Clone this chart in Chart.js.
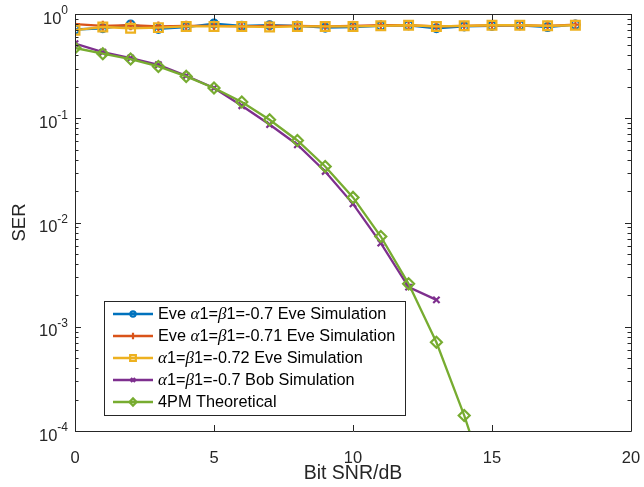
<!DOCTYPE html>
<html>
<head>
<meta charset="utf-8">
<script src="https://cdn.jsdelivr.net/npm/chart.js@4.4.0/dist/chart.umd.min.js"></script>
<style>
  html, body { margin: 0; padding: 0; background: #fff; }
  #wrap { position: relative; width: 644px; height: 487px; }
</style>
</head>
<body>
<div id="wrap"><canvas id="ser-chart" width="644" height="487"></canvas></div>
<script>
(function () {
    'use strict';

    // Bit SNR (dB) sample points
    var snrEve = [0, 1, 2, 3, 4, 5, 6, 7, 8, 9, 10, 11, 12, 13, 14, 15, 16, 17, 18];
    var snrBob = [0, 1, 2, 3, 4, 5, 6, 7, 8, 9, 10, 11, 12, 13];
    var snrTheory = [0, 1, 2, 3, 4, 5, 6, 7, 8, 9, 10, 11, 12, 13, 14, 15];

    // symbol error rates
    var serEve070 = [0.71, 0.73, 0.79, 0.72, 0.75, 0.81, 0.77, 0.78, 0.77, 0.74, 0.75, 0.77, 0.78, 0.73, 0.76, 0.77, 0.78, 0.75, 0.79];
    var serEve071 = [0.80, 0.77, 0.78, 0.76, 0.77, 0.77, 0.76, 0.77, 0.77, 0.76, 0.77, 0.78, 0.78, 0.76, 0.77, 0.78, 0.78, 0.77, 0.79];
    var serEve072 = [0.70, 0.75, 0.73, 0.74, 0.76, 0.76, 0.76, 0.75, 0.76, 0.76, 0.76, 0.77, 0.78, 0.76, 0.77, 0.78, 0.78, 0.77, 0.78];
    var serBob = [0.52, 0.43, 0.378, 0.326, 0.256, 0.195, 0.132, 0.087, 0.0557, 0.0309, 0.0151, 0.00634, 0.0024, 0.00181];
    var serTheory = [0.472, 0.416, 0.37, 0.314, 0.252, 0.195, 0.143, 0.0968, 0.0612, 0.0345, 0.0174, 0.00734, 0.00258, 0.00071, 0.000141, 0.000022];

    var legendLabels = [
        'Eve α1=β1=-0.7 Eve Simulation',
        'Eve α1=β1=-0.71 Eve Simulation',
        'α1=β1=-0.72 Eve Simulation',
        'α1=β1=-0.7 Bob Simulation',
        '4PM Theoretical'
    ];

    var xTicks = [0, 5, 10, 15, 20];
    var yDecades = [-4, -3, -2, -1, 0];

    var AXIS_COLOR = '#262626';
    var SANS = '"Liberation Sans", Arial, sans-serif';
    var SERIF = '"Liberation Serif", "Times New Roman", serif';

    function pairs(xs, ys) {
        return ys.map(function (y, i) {
            return { x: xs[i], y: y };
        });
    }

    function series(label, xs, ys, color, style, radius, order) {
        return {
            label: label,
            data: pairs(xs, ys),
            borderColor: color,
            backgroundColor: 'rgba(0,0,0,0)',
            borderWidth: 2.3,
            pointStyle: style,
            pointRadius: radius,
            pointBorderWidth: 2.2,
            pointBorderColor: color,
            pointBackgroundColor: 'rgba(0,0,0,0)',
            tension: 0,
            order: order
        };
    }

    var datasets = [
        series(legendLabels[0], snrEve, serEve070, '#0072BD', 'circle', 4, 5),
        series(legendLabels[1], snrEve, serEve071, '#D95319', 'cross', 5, 4),
        series(legendLabels[2], snrEve, serEve072, '#EDB120', 'rect', 6.2, 3),
        series(legendLabels[3], snrBob, serBob, '#7E2F8E', 'crossRot', 4.5, 2),
        series(legendLabels[4], snrTheory, serTheory, '#77AC30', 'rectRot', 5.5, 1)
    ];

    // axes box, inward ticks on all four sides, superscript y labels
    var frame = {
        id: 'frame',
        afterDatasetsDraw: function (chart) {
            var ctx = chart.ctx;
            var a = chart.chartArea;
            var xs = chart.scales.x;
            var ys = chart.scales.y;

            ctx.save();
            ctx.strokeStyle = AXIS_COLOR;
            ctx.lineWidth = 1;
            ctx.beginPath();

            xTicks.forEach(function (v) {
                var px = Math.round(xs.getPixelForValue(v)) + 0.5;
                ctx.moveTo(px, a.bottom);
                ctx.lineTo(px, a.bottom - 6);
                ctx.moveTo(px, a.top);
                ctx.lineTo(px, a.top + 6);
            });

            yDecades.forEach(function (e) {
                for (var m = 1; m <= 9; m++) {
                    var v = m * Math.pow(10, e);
                    if (v > ys.max * 1.0001) {
                        break;
                    }
                    var len = m === 1 ? 6 : 3.5;
                    var py = Math.round(ys.getPixelForValue(v)) + 0.5;
                    ctx.moveTo(a.left, py);
                    ctx.lineTo(a.left + len, py);
                    ctx.moveTo(a.right, py);
                    ctx.lineTo(a.right - len, py);
                }
            });

            var l = Math.round(a.left) + 0.5;
            var r = Math.round(a.right) + 0.5;
            var t = Math.round(a.top) + 0.5;
            var b = Math.round(a.bottom) + 0.5;
            ctx.moveTo(l, t);
            ctx.lineTo(r, t);
            ctx.lineTo(r, b);
            ctx.lineTo(l, b);
            ctx.closePath();
            ctx.stroke();

            // y tick labels: 10 with a raised exponent
            ctx.fillStyle = AXIS_COLOR;
            ctx.textBaseline = 'middle';
            yDecades.forEach(function (e) {
                var py = ys.getPixelForValue(Math.pow(10, e));
                var exp = String(e);
                ctx.font = '12px ' + SANS;
                var ew = ctx.measureText(exp).width;
                ctx.textAlign = 'left';
                ctx.fillText(exp, a.left - 7 - ew, py - 3);
                ctx.font = '16.5px ' + SANS;
                ctx.textAlign = 'right';
                ctx.fillText('10', a.left - 7 - ew, py + 5);
            });
            ctx.restore();
        },
        afterDraw: function (chart) {
            drawLegend(chart);
        }
    };

    function drawLabel(ctx, text, x, y) {
        var parts = text.split(/([αβ])/);
        parts.forEach(function (p) {
            if (!p) {
                return;
            }
            ctx.font = (p === 'α' || p === 'β') ? 'italic 17px ' + SERIF : '16.3px ' + SANS;
            ctx.fillText(p, x, y);
            x += ctx.measureText(p).width;
        });
    }

    function drawLegend(chart) {
        var ctx = chart.ctx;
        var box = { left: 104.5, top: 301.5, width: 301, height: 114 };
        var rowH = 22;
        var firstRow = 314;

        ctx.save();
        ctx.fillStyle = '#fff';
        ctx.fillRect(box.left, box.top, box.width, box.height);
        ctx.strokeStyle = AXIS_COLOR;
        ctx.lineWidth = 1;
        ctx.strokeRect(box.left, box.top, box.width, box.height);

        chart.data.datasets.forEach(function (ds, i) {
            var y = firstRow + i * rowH;
            ctx.strokeStyle = ds.borderColor;
            ctx.lineWidth = ds.borderWidth;
            ctx.beginPath();
            ctx.moveTo(113, y);
            ctx.lineTo(153, y);
            ctx.stroke();

            ctx.lineWidth = ds.pointBorderWidth;
            ctx.fillStyle = ds.pointBackgroundColor;
            Chart.helpers.drawPoint(ctx, {
                pointStyle: ds.pointStyle,
                radius: ds.pointRadius * 0.65,
                rotation: 0,
                borderWidth: ds.pointBorderWidth
            }, 133, y);

            ctx.fillStyle = '#000';
            ctx.textAlign = 'left';
            ctx.textBaseline = 'middle';
            drawLabel(ctx, ds.label, 158, y + 1);
        });
        ctx.restore();
    }

    new Chart(document.getElementById('ser-chart'), {
        type: 'line',
        data: { datasets: datasets },
        options: {
            responsive: false,
            animation: false,
            events: [],
            layout: { padding: { top: 14, right: 13, left: 0, bottom: 0 } },
            plugins: {
                legend: { display: false },
                tooltip: { enabled: false }
            },
            scales: {
                x: {
                    type: 'linear',
                    min: 0,
                    max: 20,
                    grid: { display: false },
                    border: { display: false },
                    ticks: {
                        stepSize: 5,
                        padding: 10,
                        color: AXIS_COLOR,
                        font: { family: SANS, size: 16.5 }
                    },
                    title: {
                        display: true,
                        text: 'Bit SNR/dB',
                        color: AXIS_COLOR,
                        font: { family: SANS, size: 19.5 },
                        padding: { top: 0, bottom: 2 }
                    },
                    afterFit: function (scale) {
                        scale.height = 56;
                        scale.paddingLeft = 0;
                        scale.paddingRight = 0;
                    }
                },
                y: {
                    type: 'logarithmic',
                    min: 1e-4,
                    max: 1,
                    grid: { display: false },
                    border: { display: false },
                    ticks: { display: false },
                    title: {
                        display: true,
                        text: 'SER',
                        color: AXIS_COLOR,
                        font: { family: SANS, size: 18.5 },
                        padding: { top: 9, bottom: 0 }
                    },
                    afterFit: function (scale) {
                        scale.width = 75;
                    }
                }
            }
        },
        plugins: [frame]
    });
})();
</script>
</body>
</html>
